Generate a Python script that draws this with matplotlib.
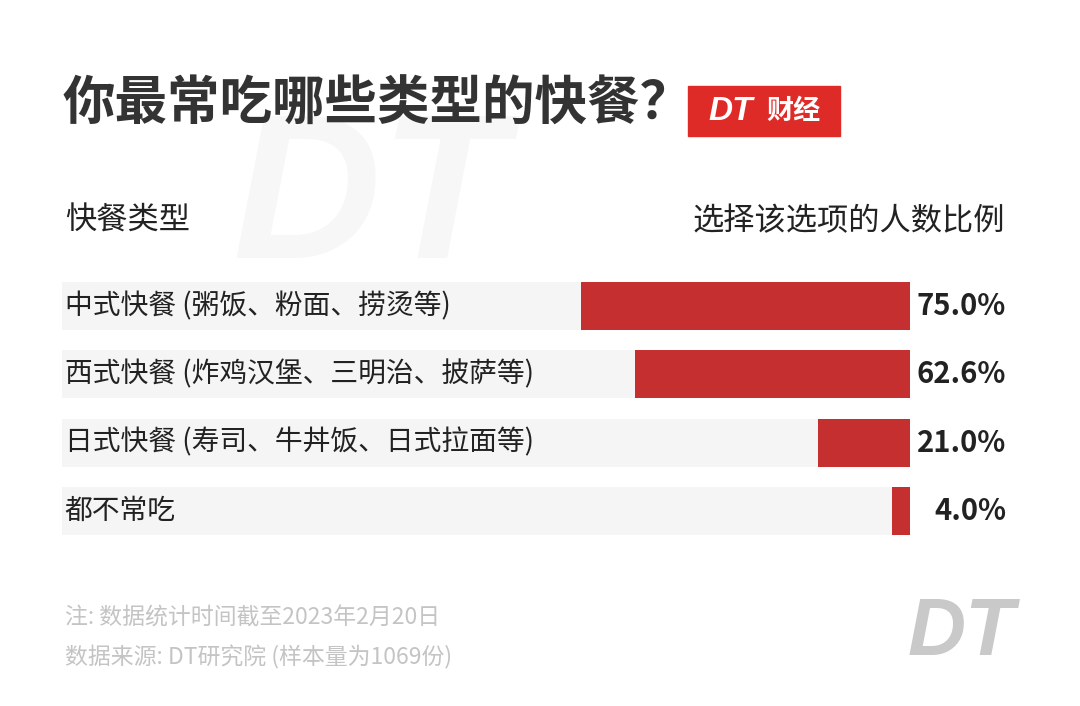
import matplotlib
matplotlib.use('Agg')
import matplotlib.pyplot as plt
from matplotlib.patches import Rectangle
from matplotlib.transforms import blended_transform_factory

plt.rcParams['font.family'] = ['Noto Sans CJK SC', 'DejaVu Sans']

# data
categories = ['中式快餐 (粥饭、粉面、捞烫等)',
              '西式快餐 (炸鸡汉堡、三明治、披萨等)',
              '日式快餐 (寿司、牛丼饭、日式拉面等)',
              '都不常吃']
values = [75.0, 62.6, 21.0, 4.0]
value_labels = ['75.0%', '62.6%', '21.0%', '4.0%']

title = '你最常吃哪些类型的快餐？'
col_left = '快餐类型'
col_right = '选择该选项的人数比例'
notes = ['注: 数据统计时间截至2023年2月20日',
         '数据来源: DT研究院 (样本量为1069份)']

W, H = 1080, 706
bar_red = '#c52f30'
row_bg = '#f5f5f5'
xmax = 193.3  # grey row spans this many percent

fig = plt.figure(figsize=(W / 100, H / 100), dpi=100)
fig.patch.set_facecolor('white')


def fx(px):
    return px / W


def fy(py):
    return 1 - py / H


# watermark
fig.text(fx(232), fy(205), 'DT', family='Liberation Sans', fontsize=148,
         fontweight='bold', fontstyle='italic', color='#f7f7f7',
         ha='left', va='center', zorder=0)

# title + logo box
fig.text(fx(63), fy(104), title, fontsize=37.8, fontweight='black',
         color='#333333', ha='left', va='center')
fig.add_artist(Rectangle((fx(688), fy(136)), fx(152), 50 / H,
                         transform=fig.transFigure, color='#df2b28', zorder=2))
fig.text(fx(708), fy(111), 'DT', family='Liberation Sans', fontsize=24,
         fontweight='bold', fontstyle='italic', color='white',
         ha='left', va='center', zorder=3)
fig.text(fx(766), fy(111), '财经', fontsize=19.5, fontweight='bold',
         color='white', ha='left', va='center', zorder=3)

# column headers
fig.text(fx(65), fy(221), col_left, fontsize=22.5, color='#222222',
         ha='left', va='center')
fig.text(fx(1005), fy(221), col_right, fontsize=22.5, color='#222222',
         ha='right', va='center')

# bars
ax = fig.add_axes([fx(62), fy(535), fx(848), 253 / H])
ax.patch.set_alpha(0)
ypos = list(range(len(values)))
ax.barh(ypos, [xmax] * len(values), height=0.706, color=row_bg, zorder=1)
ax.barh(ypos, values, height=0.706, color=bar_red, zorder=2)
ax.set_xlim(xmax, 0)
ax.set_ylim(len(values) - 1 + 0.353, -0.353)
ax.axis('off')

tr = blended_transform_factory(fig.transFigure, ax.transData)
for i, (cat, lab) in enumerate(zip(categories, value_labels)):
    ax.text(xmax - 0.6, i, cat, fontsize=20, color='#222222',
            ha='left', va='center', zorder=3)
    ax.text(fx(1006), i, lab, transform=tr, fontsize=21, fontweight='bold',
            color='#222222', ha='right', va='center', zorder=3)

# footnotes
fig.text(fx(65), fy(618), notes[0], fontsize=16.5, fontweight='light',
         color='#c4c4c4', ha='left', va='center')
fig.text(fx(65), fy(657), notes[1], fontsize=16.5, fontweight='light',
         color='#c4c4c4', ha='left', va='center')

# bottom logo
fig.text(fx(908), fy(634), 'DT', family='Liberation Sans', fontsize=58,
         fontweight='bold', fontstyle='italic', color='#c9c9c9',
         ha='left', va='center')

fig.savefig('out.png', dpi=100)
